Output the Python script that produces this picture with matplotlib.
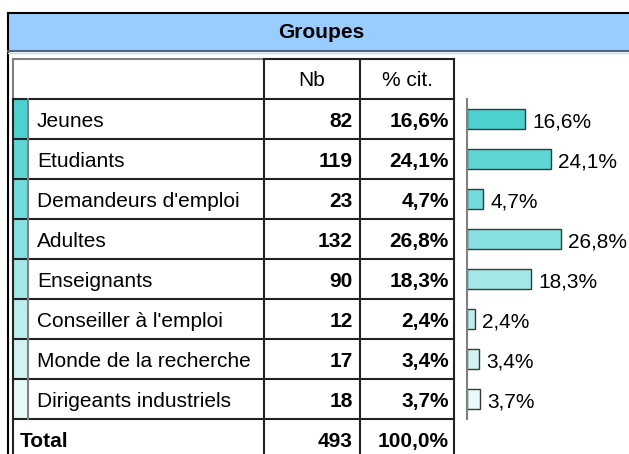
import matplotlib
matplotlib.use('Agg')
from matplotlib import pyplot as plt
from matplotlib.patches import Rectangle

categories = ['Jeunes', 'Etudiants', "Demandeurs d'emploi", 'Adultes', 'Enseignants',
              "Conseiller à l'emploi", 'Monde de la recherche', 'Dirigeants industriels']
counts = [82, 119, 23, 132, 90, 12, 17, 18]
pcts = [16.6, 24.1, 4.7, 26.8, 18.3, 2.4, 3.4, 3.7]
total_count = 493
total_pct = 100.0
title = 'Groupes'
col_labels = ['Nb', '% cit.']

colors = ['#4dd0d0', '#5fd5d5', '#72dbdb', '#88e0e0', '#a3e7e7', '#bdeeee', '#d3f3f3', '#e8f9f9']

plt.rcParams['font.family'] = ['Liberation Sans', 'DejaVu Sans']
FS = 15
W, H = 629, 454


def fmt(v):
    return f"{v:.1f}".replace('.', ',') + '%'


fig = plt.figure(figsize=(W / 100, H / 100), dpi=100)
ax = fig.add_axes([0, 0, 1, 1])
ax.set_xlim(0, W)
ax.set_ylim(H, 0)
ax.axis('off')

dark = '#222222'
grey = '#808080'

# header band
ax.add_patch(Rectangle((8, 13), W - 8, 37, facecolor='#99ccff', edgecolor='none'))
ax.plot([8, W], [13, 13], color='black', lw=1.5)
ax.plot([8, 8], [13, H], color='black', lw=1.5)
ax.plot([8, W], [50.5, 50.5], color='#4d6680', lw=1.5)
ax.plot([8, W], [52.5, 52.5], color='#bcdcff', lw=1)
ax.text(321, 32, title, ha='center', va='center', fontsize=FS, fontweight='bold')

# table grid
top, row_h = 59, 40
first = 99
n = len(categories)
ax.plot([13, 264], [top, top], color=grey, lw=1.5)
ax.plot([264, 454], [top, top], color=dark, lw=1.5)
ax.plot([13, 13], [top, first], color=grey, lw=1.5)
ax.plot([13, 13], [first, H], color=dark, lw=1.5)
for xv in [264, 360, 454]:
    ax.plot([xv, xv], [top, H], color=dark, lw=1.5)
for k in range(n + 1):
    y = first + k * row_h
    ax.plot([13, 454], [y, y], color=dark, lw=1.5)

ax.text(312, 86, col_labels[0], ha='center', va='baseline', fontsize=FS)
ax.text(407, 86, col_labels[1], ha='center', va='baseline', fontsize=FS)

for i, (cat, c, p) in enumerate(zip(categories, counts, pcts)):
    y0 = first + i * row_h
    ax.add_patch(Rectangle((13, y0), 14, row_h, facecolor=colors[i], edgecolor='none', zorder=1))
    base = y0 + 28
    ax.text(37, base, cat, ha='left', va='baseline', fontsize=FS)
    ax.text(353, base, str(c), ha='right', va='baseline', fontsize=FS, fontweight='bold')
    ax.text(449, base, fmt(p), ha='right', va='baseline', fontsize=FS, fontweight='bold')
ax.plot([27.5, 27.5], [first, first + n * row_h], color=grey, lw=1.5, zorder=2)

# total row
base = first + n * row_h + 28
ax.text(20, base, 'Total', ha='left', va='baseline', fontsize=FS, fontweight='bold')
ax.text(353, base, str(total_count), ha='right', va='baseline', fontsize=FS, fontweight='bold')
ax.text(449, base, fmt(total_pct), ha='right', va='baseline', fontsize=FS, fontweight='bold')

# bar chart
bx0, bx1 = 467, W
by0, by1 = first, first + n * row_h
axb = fig.add_axes([bx0 / W, 1 - by1 / H, (bx1 - bx0) / W, (by1 - by0) / H])
axb.set_xlim(0, (bx1 - bx0) / 3.5)
axb.set_ylim(n - 0.5, -0.5)
axb.barh(range(n), pcts, height=0.5, color=colors, edgecolor='#3a3a3a', linewidth=1)
for i, p in enumerate(pcts):
    axb.annotate(fmt(p), xy=(p, i), xytext=(5, -5.8), textcoords='offset points',
                 ha='left', va='baseline', fontsize=FS, annotation_clip=False)
axb.set_xticks([])
axb.set_yticks([])
for s in ['top', 'right', 'bottom']:
    axb.spines[s].set_visible(False)
axb.spines['left'].set_color(grey)
axb.spines['left'].set_linewidth(1.5)
axb.patch.set_alpha(0)

plt.savefig('out.png', dpi=100)
